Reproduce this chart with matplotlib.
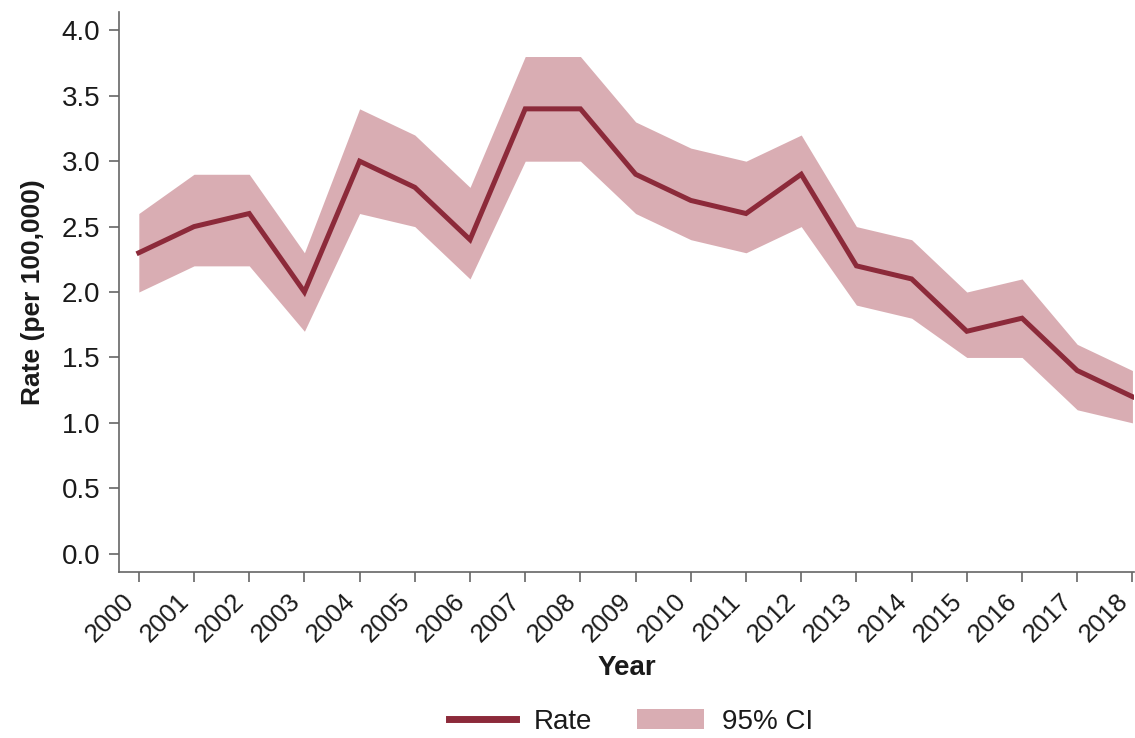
import matplotlib
matplotlib.use("Agg")
import matplotlib.pyplot as plt
from matplotlib.patches import Patch
from matplotlib.lines import Line2D

years = list(range(2000, 2019))
rate = [2.3, 2.5, 2.6, 2.0, 3.0, 2.8, 2.4, 3.4, 3.4, 2.9, 2.7, 2.6, 2.9, 2.2, 2.1, 1.7, 1.8, 1.4, 1.2]
lower = [2.0, 2.2, 2.2, 1.7, 2.6, 2.5, 2.1, 3.0, 3.0, 2.6, 2.4, 2.3, 2.5, 1.9, 1.8, 1.5, 1.5, 1.1, 1.0]
upper = [2.6, 2.9, 2.9, 2.3, 3.4, 3.2, 2.8, 3.8, 3.8, 3.3, 3.1, 3.0, 3.2, 2.5, 2.4, 2.0, 2.1, 1.6, 1.4]
yticks = [0.0, 0.5, 1.0, 1.5, 2.0, 2.5, 3.0, 3.5, 4.0]

plt.rcParams['font.family'] = ['Liberation Sans', 'DejaVu Sans']

line_color = '#8C2A3A'
fill_color = '#D9ADB3'
spine_color = '#666666'
text_color = '#1a1a1a'

fig = plt.figure(figsize=(11.35, 7.38), dpi=100)
ax = fig.add_axes([0.1048, 0.2249, 0.8944, 0.7588])

ax.fill_between(years, lower, upper, color=fill_color, linewidth=0)
ax.plot(years, rate, color=line_color, linewidth=3.6, solid_joinstyle='miter')

ax.set_xlim(1999.64, 2018.03)
ax.set_ylim(-0.14, 4.14)
ax.set_yticks(yticks)
ax.set_yticklabels([f"{v:.1f}" for v in yticks])
ax.set_xticks(years)
ax.set_xticklabels([str(y) for y in years], rotation=45, ha='right')

for s in ['top', 'right']:
    ax.spines[s].set_visible(False)
for s in ['left', 'bottom']:
    ax.spines[s].set_color(spine_color)
    ax.spines[s].set_linewidth(1.2)
ax.tick_params(axis='both', direction='out', length=7.5, width=1.2, color=spine_color,
               labelsize=20, labelcolor=text_color, pad=6)
ax.tick_params(axis='x', pad=5, labelsize=18.5)

ax.set_xlabel('Year', fontsize=20, fontweight='bold', labelpad=6, color=text_color)
ax.set_ylabel('Rate (per 100,000)', fontsize=19, fontweight='bold', labelpad=12, color=text_color)

handles = [Line2D([0], [0], color=line_color, linewidth=5),
           Patch(facecolor=fill_color, edgecolor='none')]
fig.legend(handles, ['Rate', '95% CI'], loc='center', bbox_to_anchor=(0.556, 0.022),
           ncol=2, frameon=False, fontsize=20, handlelength=2.4, handleheight=0.75,
           columnspacing=1.6, handletextpad=0.65, labelcolor=text_color)

fig.savefig('out.png', dpi=100)
